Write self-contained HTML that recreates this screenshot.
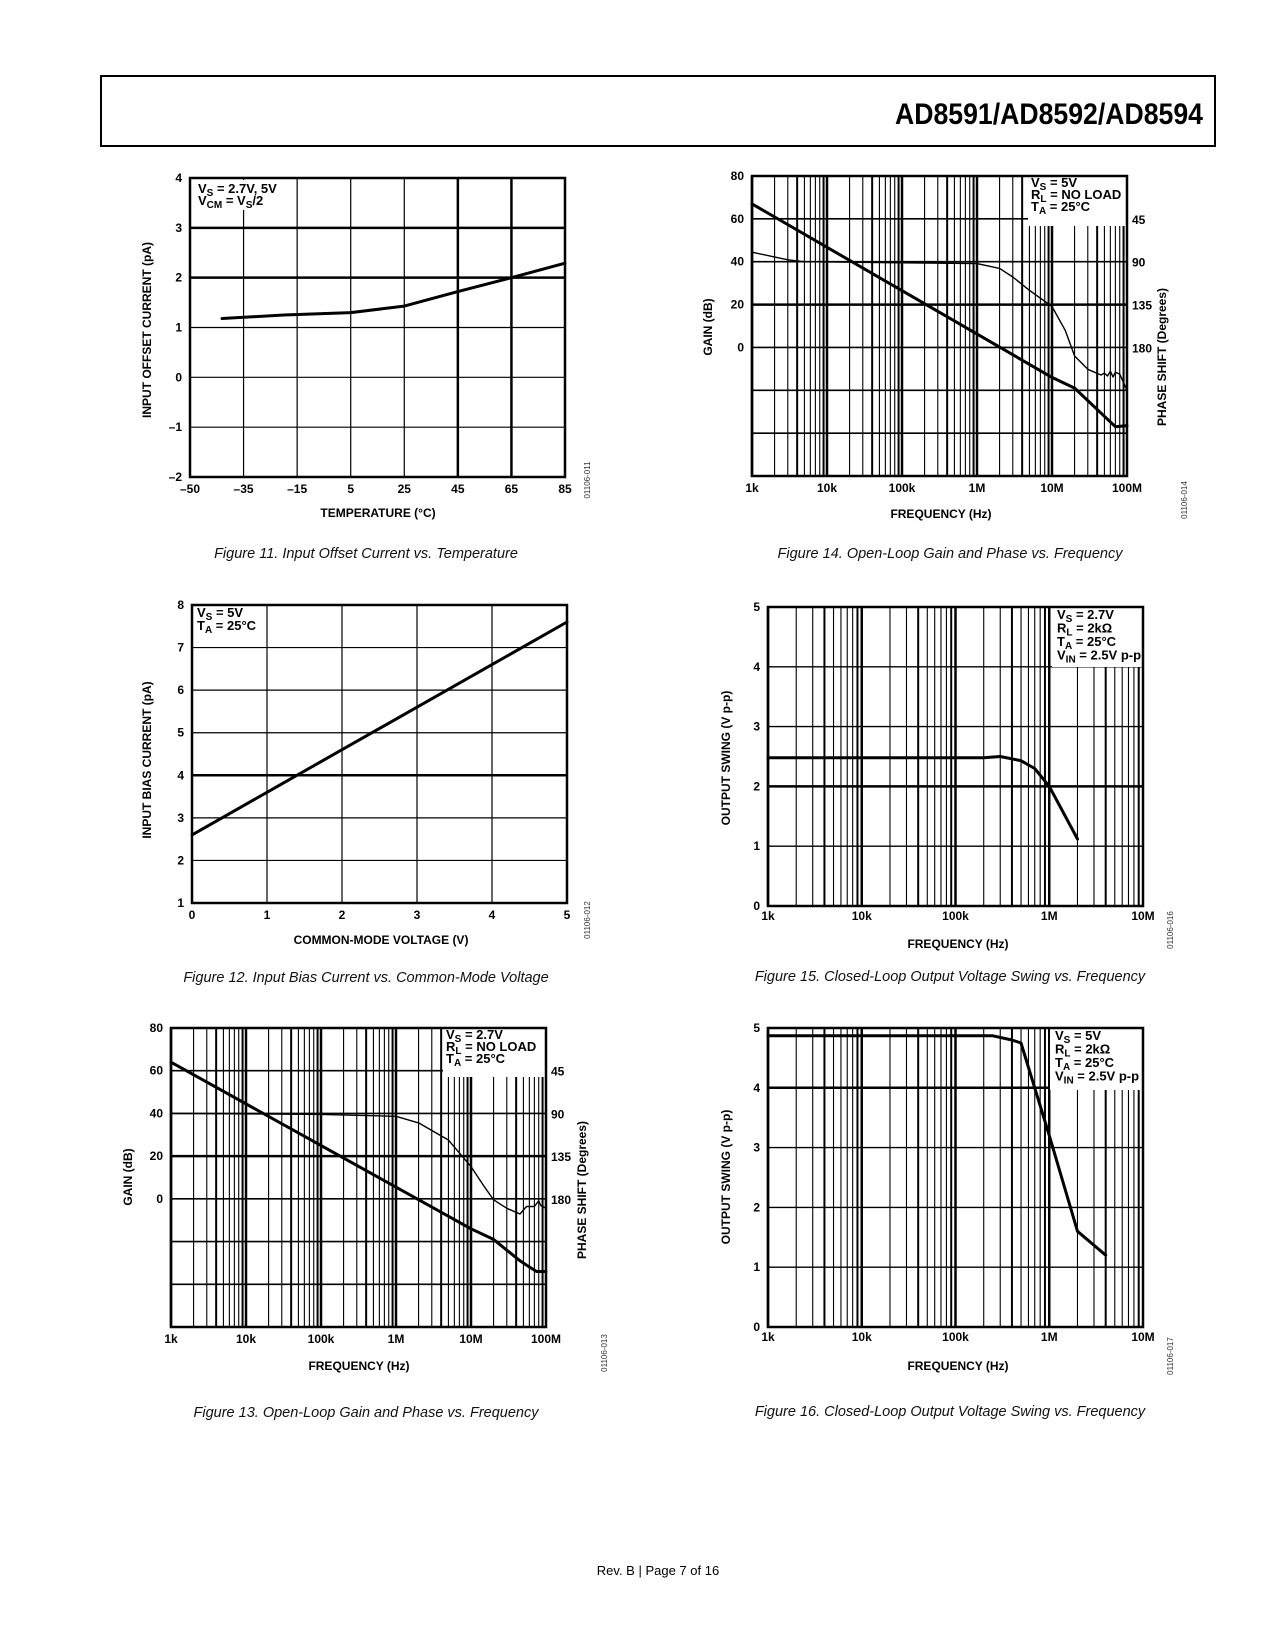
<!DOCTYPE html>
<html><head><meta charset="utf-8"><style>
html,body{margin:0;padding:0;background:#fff;}
svg{display:block;font-family:"Liberation Sans",sans-serif;}
.t{font-weight:bold;font-size:12px;fill:#000;}
.lg{font-weight:bold;font-size:13px;fill:#000;}
.cap{font-style:italic;font-size:14.5px;fill:#111;}
.id{font-size:8px;fill:#333;}
</style></head><body>
<svg id="page" width="1275" height="1650" viewBox="0 0 1275 1650" xmlns="http://www.w3.org/2000/svg">
<rect x="0" y="0" width="1275" height="1650" fill="#fff"/>
<rect x="101" y="76" width="1114" height="70" fill="none" stroke="#000" stroke-width="2"/>
<text x="1203" y="124" text-anchor="end" font-family="Liberation Sans Narrow, Liberation Sans, sans-serif" font-weight="bold" font-size="30" textLength="308" lengthAdjust="spacingAndGlyphs">AD8591/AD8592/AD8594</text>
<text class="cap" x="366" y="558" text-anchor="middle">Figure 11. Input Offset Current vs. Temperature</text>
<text class="cap" x="950" y="558" text-anchor="middle">Figure 14. Open-Loop Gain and Phase vs. Frequency</text>
<text class="cap" x="366" y="982" text-anchor="middle">Figure 12. Input Bias Current vs. Common-Mode Voltage</text>
<text class="cap" x="950" y="981" text-anchor="middle">Figure 15. Closed-Loop Output Voltage Swing vs. Frequency</text>
<text class="cap" x="366" y="1417" text-anchor="middle">Figure 13. Open-Loop Gain and Phase vs. Frequency</text>
<text class="cap" x="950" y="1416" text-anchor="middle">Figure 16. Closed-Loop Output Voltage Swing vs. Frequency</text>
<text x="658" y="1575" text-anchor="middle" font-size="13">Rev. B | Page 7 of 16</text>
</svg>
<script>
// ---- Figure 11 data ----
const f11Ticks = [-50, -35, -15, 5, 25, 45, 65, 85];
const f11YTicks = [-2, -1, 0, 1, 2, 3, 4];
const f11Temp = [-41, -20, 5, 25, 45, 65, 85];
const f11Current = [1.18, 1.25, 1.3, 1.43, 1.72, 2.0, 2.29];
// ---- Figure 12 data ----
const f12XTicks = [0, 1, 2, 3, 4, 5];
const f12YTicks = [1, 2, 3, 4, 5, 6, 7, 8];
const f12Vcm = [0, 1, 2, 3, 4, 5];
const f12Ib = [2.6, 3.6, 4.6, 5.6, 6.6, 7.6];
// ---- Figure 13 data ----
const f13GainF = [1e3, 1e7, 2e7, 4.5e7, 5.5e7, 7.5e7, 1e8];
const f13Gain = [64, -14, -19, -29, -31, -34, -34];
const f13PhaseF = [1e3, 1e5, 1e6, 2e6, 5e6, 1e7, 1.5e7, 2e7, 3e7, 4.5e7, 5.5e7, 7e7, 8e7, 8.5e7, 1e8];
const f13Phase = [90, 91, 93, 100, 118, 146, 167, 181, 190, 196, 188, 188, 182, 187, 190];
// ---- Figure 14 data ----
const f14GainF = [1e3, 1e7, 2e7, 7e7, 1e8];
const f14Gain = [67, -14, -19, -37, -36.5];
const f14PhaseF = [1e3, 3e3, 5e3, 1e6, 2e6, 3e6, 5e6, 1e7, 1.5e7, 2e7, 3e7, 4.5e7, 5e7, 5.5e7, 6e7, 6.5e7, 7e7, 8e7, 1e8];
const f14Phase = [80, 88, 90, 92, 97, 106, 120, 137, 162, 189, 203, 209, 207, 210, 205, 211, 206, 208, 225];
// ---- Figure 15 data ----
const f15F = [1e3, 2e5, 3e5, 5e5, 7e5, 1e6, 2e6];
const f15V = [2.48, 2.48, 2.5, 2.43, 2.3, 2.0, 1.12];
// ---- Figure 16 data ----
const f16F = [1e3, 2.5e5, 4e5, 5e5, 7e5, 1e6, 2e6, 4e6];
const f16V = [4.87, 4.87, 4.8, 4.75, 4.0, 3.2, 1.6, 1.2];
// shared tick labels
const gainTicks = [80, 60, 40, 20, 0];
const phaseTicks = [45, 90, 135, 180];
const freqLabels5 = ['1k', '10k', '100k', '1M', '10M', '100M'];
const freqLabels4 = ['1k', '10k', '100k', '1M', '10M'];
const swingTicks = [0, 1, 2, 3, 4, 5];

const NS = 'http://www.w3.org/2000/svg';
const svg = document.getElementById('page');
function mk(tag, attrs, parent) {
  const e = document.createElementNS(NS, tag);
  for (const k in attrs) e.setAttribute(k, attrs[k]);
  (parent || svg).appendChild(e);
  return e;
}
function lin(d0, d1, r0, r1) { return v => r0 + (v - d0) / (d1 - d0) * (r1 - r0); }
function logs(d0, d1, r0, r1) { const a = Math.log10(d0), b = Math.log10(d1); return v => r0 + (Math.log10(v) - a) / (b - a) * (r1 - r0); }
function hline(g, x0, x1, y, w, name) {
  const l = mk('line', {x1: x0, x2: x1, y1: y, y2: y, stroke: '#000', 'stroke-width': w}, g);
  
  
}
function vline(g, x, y0, y1, w, name) {
  const l = mk('line', {x1: x, x2: x, y1: y0, y2: y1, stroke: '#000', 'stroke-width': w}, g);
  
  
}
function txt(g, x, y, s, cls, anchor, name) {
  const t = mk('text', {x: x, y: y, class: cls, 'text-anchor': anchor || 'middle'}, g);
  t.textContent = s;
  
  
  return t;
}
function vtxt(g, x, y, s, cls, name) {
  const t = mk('text', {x: 0, y: 0, class: cls, 'text-anchor': 'middle', transform: 'translate(' + x + ',' + y + ') rotate(-90)'}, g);
  t.textContent = s;
  
  
}
function curve(g, xs, ys, w, name) {
  const d = xs.map((x, i) => (i ? 'L' : 'M') + x.toFixed(1) + ',' + ys[i].toFixed(1)).join('');
  const p = mk('path', {d: d, fill: 'none', stroke: '#000', 'stroke-width': w, 'stroke-linejoin': 'round', 'stroke-linecap': 'round'}, g);
  
  
}
function frame(g, L, T, R, B) {
  const r = mk('rect', {x: L, y: T, width: R - L, height: B - T, fill: 'none', stroke: '#000', 'stroke-width': 2.5}, g);
  
  
}
function legend(g, x, y, w, h, lines, lx, ly, dy) {
  if (w > 0) {
    const r = mk('rect', {x: x, y: y, width: w, height: h, fill: '#fff'}, g);
    
    
  }
  lines.forEach((ln, i) => {
    const t = mk('text', {x: lx, y: ly + i * dy, class: 'lg'}, g);
    
    
    const a = mk('tspan', {}, t); a.textContent = ln[0];
    const s = mk('tspan', {'font-size': '10', dy: '3'}, t); s.textContent = ln[1];
    const b = mk('tspan', {dy: '-3'}, t); b.textContent = ln[2];
  });
}
function logGrid(g, L, T, R, B, decades, xs, thick) {
  for (let d = 0; d < decades; d++) {
    for (let m = 1; m <= 9; m++) {
      const f = 1e3 * Math.pow(10, d) * m;
      const w = m === 1 ? 2.5 : (thick.includes(m) ? 2 : 1.1);
      vline(g, xs(f), T, B, w, 'grid-vertical');
    }
  }
}

// ===== Figure 11 =====
(function () {
  const g = mk('g', {});  
  const L = 190, T = 178, R = 565, B = 477;
  const ys = lin(-2, 4, B, T);
  const xi = lin(0, f11Ticks.length - 1, L, R);
  const xs = v => { for (let i = 0; i < f11Ticks.length - 1; i++) { if (v <= f11Ticks[i + 1]) return xi(i + (v - f11Ticks[i]) / (f11Ticks[i + 1] - f11Ticks[i])); } return R; };
  f11YTicks.forEach(v => { hline(g, L, R, ys(v), (v === 2 || v === 3) ? 2.5 : 1.2, 'grid-horizontal'); txt(g, L - 8, ys(v) + 4, v < 0 ? '\u2013' + (-v) : String(v), 't', 'end', 'y-tick-label'); });
  f11Ticks.forEach(v => { vline(g, xs(v), T, B, (v === 45 || v === 65) ? 2.5 : 1.2, 'grid-vertical'); txt(g, xs(v), B + 16, v < 0 ? '\u2013' + (-v) : String(v), 't', 'middle', 'x-tick-label'); });
  legend(g, L + 2, T + 2, 80, 30, [['V', 'S', ' = 2.7V, 5V'], ['V', 'CM', ' = V'] ], 198, 193, 12);
  const l2 = g.lastChild; const s2 = mk('tspan', {'font-size': '10', dy: '3'}, l2); s2.textContent = 'S'; const t2 = mk('tspan', {dy: '-3'}, l2); t2.textContent = '/2';
  curve(g, f11Temp.map(xs), f11Current.map(ys), 3, 'offset-current-line');
  frame(g, L, T, R, B);
  txt(g, 378, 517, 'TEMPERATURE (\u00B0C)', 't', 'middle', 'x-axis-title');
  vtxt(g, 151, 330, 'INPUT  OFFSET CURRENT (pA)', 't', 'y-axis-title');
  vtxt(g, 590, 480, '01106-011', 'id', 'figure-id');
})();

// ===== Figure 12 =====
(function () {
  const g = mk('g', {});  
  const L = 192, T = 605, R = 567, B = 903;
  const xs = lin(0, 5, L, R), ys = lin(1, 8, B, T);
  f12YTicks.forEach(v => { hline(g, L, R, ys(v), v === 4 ? 2.5 : 1.2, 'grid-horizontal'); txt(g, L - 8, ys(v) + 4, String(v), 't', 'end', 'y-tick-label'); });
  f12XTicks.forEach(v => { vline(g, xs(v), T, B, 1.2, 'grid-vertical'); txt(g, xs(v), B + 16, String(v), 't', 'middle', 'x-tick-label'); });
  legend(g, L + 2, T + 2, 70, 30, [['V', 'S', ' = 5V'], ['T', 'A', ' = 25\u00B0C']], 197, 617, 13);
  curve(g, f12Vcm.map(xs), f12Ib.map(ys), 3, 'bias-current-line');
  frame(g, L, T, R, B);
  txt(g, 381, 944, 'COMMON-MODE VOLTAGE (V)', 't', 'middle', 'x-axis-title');
  vtxt(g, 151, 760, 'INPUT BIAS CURRENT (pA)', 't', 'y-axis-title');
  vtxt(g, 590, 920, '01106-012', 'id', 'figure-id');
})();

// ===== Open-loop charts (13, 14) =====
function openLoop(name, L, T, R, B, gf, gv, pf, pv, leg, lbox, xt, yt, pt, id) {
  const g = mk('g', {});  
  const xs = logs(1e3, 1e8, L, R), ys = lin(-60, 80, B, T);
  logGrid(g, L, T, R, B, 5, xs, [4, 9]);
  for (let v = -40; v <= 60; v += 20) hline(g, L, R, ys(v), v === 20 ? 2.5 : 1.6, 'grid-horizontal');
  gainTicks.forEach(v => txt(g, L - 8, ys(v) + 4, String(v), 't', 'end', 'gain-tick-label'));
  phaseTicks.forEach(p => txt(g, R + 5, ys((180 - p) / 2.25) + 5, String(p), 't', 'start', 'phase-tick-label'));
  freqLabels5.forEach((s, i) => txt(g, xs(1e3 * Math.pow(10, i)), B + 16, s, 't', 'middle', 'x-tick-label'));
  legend(g, lbox[0], lbox[1], lbox[2], lbox[3], leg, lbox[0] + 3, lbox[1] + 10, 12);
  curve(g, pf.map(xs), pv.map(p => ys((180 - p) / 2.25)), 1.4, 'phase-line');
  curve(g, gf.map(xs), gv.map(ys), 3, 'gain-line');
  frame(g, L, T, R, B);
  txt(g, xt[0], xt[1], 'FREQUENCY (Hz)', 't', 'middle', 'x-axis-title');
  vtxt(g, yt[0], yt[1], 'GAIN (dB)', 't', 'y-axis-title');
  vtxt(g, pt[0], pt[1], 'PHASE SHIFT (Degrees)', 't', 'phase-axis-title');
  vtxt(g, id[0], id[1], id[2], 'id', 'figure-id');
}
openLoop('figure-13-chart', 171, 1028, 546, 1327, f13GainF, f13Gain, f13PhaseF, f13Phase,
  [['V', 'S', ' = 2.7V'], ['R', 'L', ' = NO LOAD'], ['T', 'A', ' = 25\u00B0C']], [443, 1029, 102, 48],
  [359, 1370], [132, 1177], [586, 1190], [607, 1353, '01106-013']);
openLoop('figure-14-chart', 752, 176, 1127, 476, f14GainF, f14Gain, f14PhaseF, f14Phase,
  [['V', 'S', ' = 5V'], ['R', 'L', ' = NO LOAD'], ['T', 'A', ' = 25\u00B0C']], [1028, 177, 98, 49],
  [941, 518], [712, 327], [1166, 357], [1187, 500, '01106-014']);

// ===== Output swing charts (15, 16) =====
function swing(name, L, T, R, B, fx, vy, thickY, leg, lbox, xt, yt, id) {
  const g = mk('g', {});  
  const xs = logs(1e3, 1e7, L, R), ys = lin(0, 5, B, T);
  logGrid(g, L, T, R, B, 4, xs, [4, 9]);
  swingTicks.forEach(v => { hline(g, L, R, ys(v), v === thickY ? 2.5 : 1.4, 'grid-horizontal'); txt(g, L - 8, ys(v) + 4, String(v), 't', 'end', 'y-tick-label'); });
  freqLabels4.forEach((s, i) => txt(g, xs(1e3 * Math.pow(10, i)), B + 14, s, 't', 'middle', 'x-tick-label'));
  legend(g, lbox[0], lbox[1], lbox[2], lbox[3], leg, lbox[0] + 5, lbox[1] + 11, 13.5);
  curve(g, fx.map(xs), vy.map(ys), 3, 'output-swing-line');
  frame(g, L, T, R, B);
  txt(g, xt[0], xt[1], 'FREQUENCY (Hz)', 't', 'middle', 'x-axis-title');
  vtxt(g, yt[0], yt[1], 'OUTPUT SWING (V p-p)', 't', 'y-axis-title');
  vtxt(g, id[0], id[1], id[2], 'id', 'figure-id');
}
swing('figure-15-chart', 768, 607, 1143, 906, f15F, f15V, 2,
  [['V', 'S', ' = 2.7V'], ['R', 'L', ' = 2k\u03A9'], ['T', 'A', ' = 25\u00B0C'], ['V', 'IN', ' = 2.5V p-p']], [1052, 608, 90, 59],
  [958, 948], [730, 758], [1173, 930, '01106-016']);
swing('figure-16-chart', 768, 1028, 1143, 1327, f16F, f16V, 4,
  [['V', 'S', ' = 5V'], ['R', 'L', ' = 2k\u03A9'], ['T', 'A', ' = 25\u00B0C'], ['V', 'IN', ' = 2.5V p-p']], [1050, 1029, 92, 61],
  [958, 1370], [730, 1177], [1173, 1356, '01106-017']);
</script>
</body></html>
